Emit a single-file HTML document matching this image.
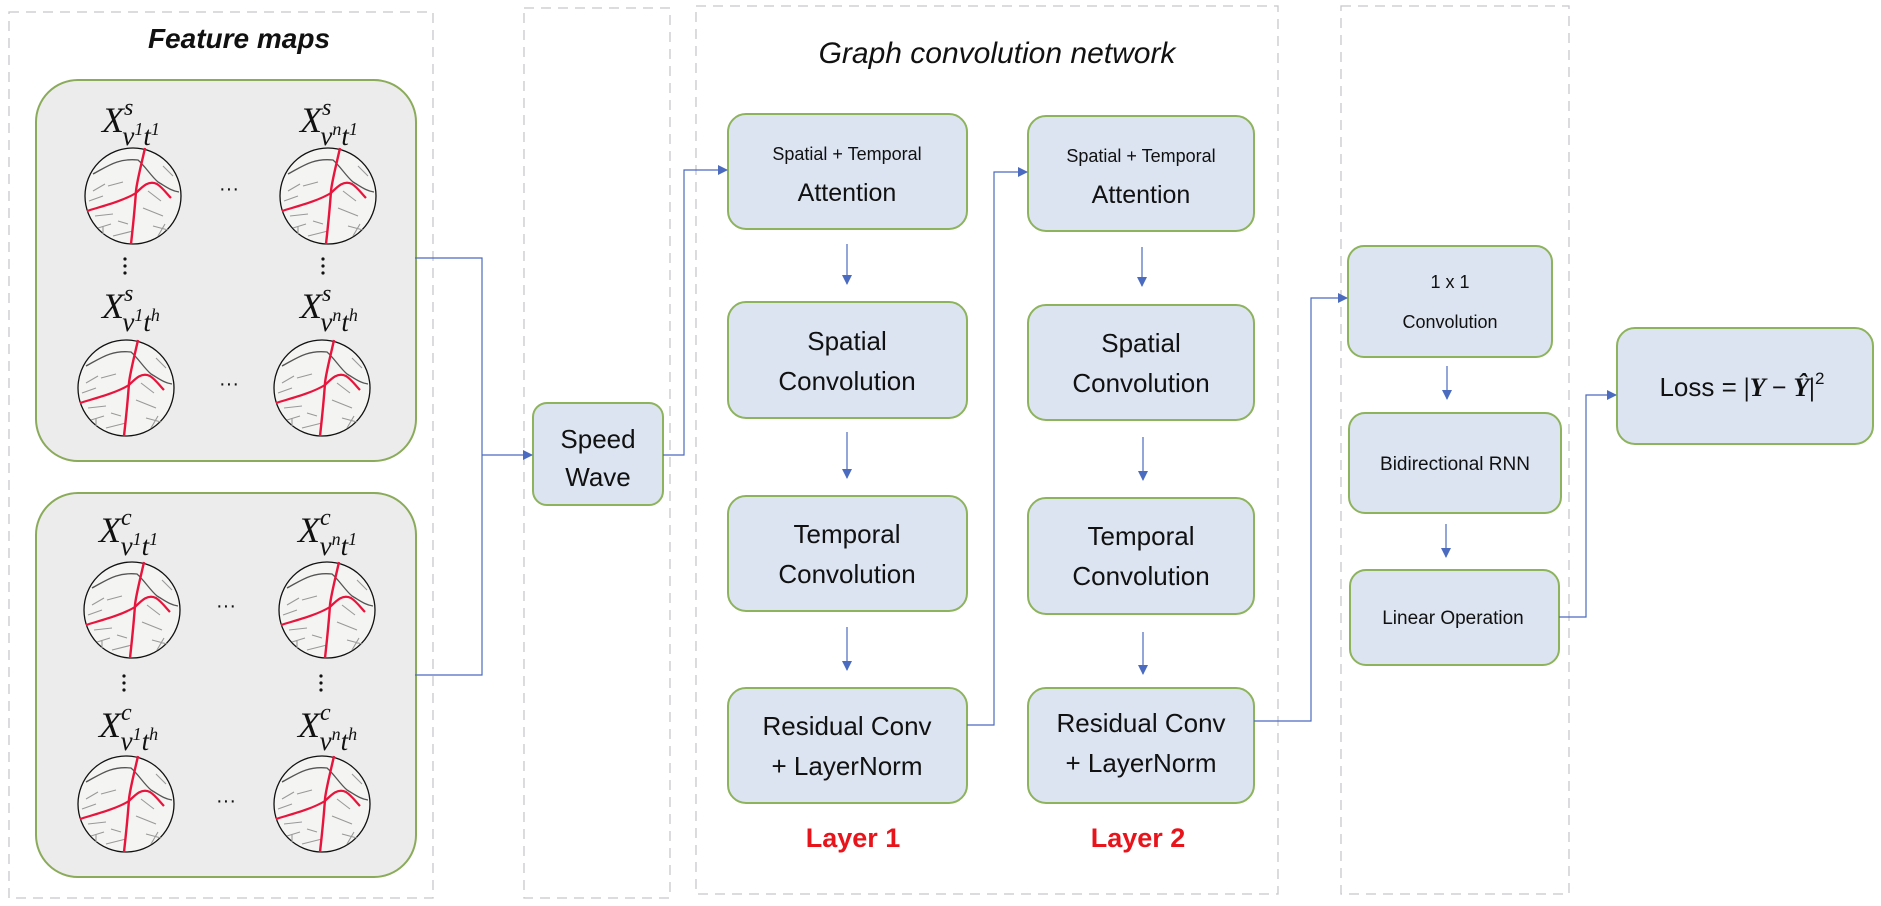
<!DOCTYPE html>
<html><head><meta charset="utf-8"><style>
html,body{margin:0;padding:0;background:#fff;width:1881px;height:906px;overflow:hidden}
svg text{font-family:"Liberation Sans",sans-serif;fill:#111}
.m{font-family:"Liberation Serif",serif;font-style:italic}
</style></head><body>
<svg width="1881" height="906" viewBox="0 0 1881 906" xmlns="http://www.w3.org/2000/svg">
<defs>
<marker id="a" viewBox="0 0 10 10" refX="9" refY="5" markerWidth="10" markerHeight="10" markerUnits="userSpaceOnUse" orient="auto"><path d="M0,0 L10,5 L0,10 z" fill="#4a6bbf"/></marker>
<g id="map">
<circle cx="0" cy="0" r="48" fill="#f4f4f2" stroke="#111" stroke-width="1.3"/>
<path d="M-40,-22 C-25,-30 -15,-38 5,-36 C12,-30 18,-20 25,-14 C32,-10 38,-5 46,-4" stroke="#555" stroke-width="1.3" fill="none"/>
<path d="M-44,5 L-30,0 M-38,20 L-20,18 M-30,30 L-30,38 M10,12 L30,20 M20,30 L35,34 M-25,-10 L-10,-14 M30,-30 L40,-20 M-20,40 L0,35 M-40,-5 L-28,-12 M-15,25 L-5,28 M15,-5 L28,5 M25,40 L32,28 M-35,32 L-22,28" stroke="#999" stroke-width="1.1" fill="none"/>
<path d="M12,-48 C8,-30 4,-15 3,-5 C2,10 0,30 -2,48" stroke="#e8143c" stroke-width="2.4" fill="none"/>
<path d="M-46,15 C-30,10 -10,5 3,-3 C10,-10 16,-16 24,-12 C30,-8 34,-2 38,2" stroke="#e8143c" stroke-width="2.2" fill="none"/>
</g>
</defs>
<g fill="none" stroke="#c8c8cc" stroke-width="1.3" stroke-dasharray="10,7">
<rect x="9" y="12" width="424" height="886"/>
<rect x="524" y="8" width="146" height="890"/>
<rect x="696" y="6" width="582" height="888"/>
<rect x="1341" y="6" width="228" height="888"/>
</g>
<text x="239" y="48" text-anchor="middle" font-size="28" font-weight="bold" font-style="italic">Feature maps</text>
<text x="997" y="63" text-anchor="middle" font-size="30" font-style="italic">Graph convolution network</text>

<rect x="36" y="80" width="380" height="381" rx="42" fill="#ececec" stroke="#8aab5a" stroke-width="2"/>
<rect x="36" y="493" width="380" height="384" rx="42" fill="#ececec" stroke="#8aab5a" stroke-width="2"/>

<g font-size="36" class="m">
<text x="102" y="132" class="m">X<tspan font-size="24" dy="-17">s</tspan><tspan font-size="27" dx="-11" dy="30">v</tspan><tspan font-size="18" dy="-10">1</tspan><tspan font-size="27" dy="10">t</tspan><tspan font-size="18" dy="-10">1</tspan></text>
<text x="300" y="132" class="m">X<tspan font-size="24" dy="-17">s</tspan><tspan font-size="27" dx="-11" dy="30">v</tspan><tspan font-size="18" dy="-10">n</tspan><tspan font-size="27" dy="10">t</tspan><tspan font-size="18" dy="-10">1</tspan></text>
<text x="102" y="318" class="m">X<tspan font-size="24" dy="-17">s</tspan><tspan font-size="27" dx="-11" dy="30">v</tspan><tspan font-size="18" dy="-10">1</tspan><tspan font-size="27" dy="10">t</tspan><tspan font-size="18" dy="-10">h</tspan></text>
<text x="300" y="318" class="m">X<tspan font-size="24" dy="-17">s</tspan><tspan font-size="27" dx="-11" dy="30">v</tspan><tspan font-size="18" dy="-10">n</tspan><tspan font-size="27" dy="10">t</tspan><tspan font-size="18" dy="-10">h</tspan></text>
<text x="99" y="542" class="m">X<tspan font-size="24" dy="-17">c</tspan><tspan font-size="27" dx="-11" dy="30">v</tspan><tspan font-size="18" dy="-10">1</tspan><tspan font-size="27" dy="10">t</tspan><tspan font-size="18" dy="-10">1</tspan></text>
<text x="298" y="542" class="m">X<tspan font-size="24" dy="-17">c</tspan><tspan font-size="27" dx="-11" dy="30">v</tspan><tspan font-size="18" dy="-10">n</tspan><tspan font-size="27" dy="10">t</tspan><tspan font-size="18" dy="-10">1</tspan></text>
<text x="99" y="737" class="m">X<tspan font-size="24" dy="-17">c</tspan><tspan font-size="27" dx="-11" dy="30">v</tspan><tspan font-size="18" dy="-10">1</tspan><tspan font-size="27" dy="10">t</tspan><tspan font-size="18" dy="-10">h</tspan></text>
<text x="298" y="737" class="m">X<tspan font-size="24" dy="-17">c</tspan><tspan font-size="27" dx="-11" dy="30">v</tspan><tspan font-size="18" dy="-10">n</tspan><tspan font-size="27" dy="10">t</tspan><tspan font-size="18" dy="-10">h</tspan></text>
</g>
<use href="#map" x="133" y="196"/><use href="#map" x="328" y="196"/>
<use href="#map" x="126" y="388"/><use href="#map" x="322" y="388"/>
<use href="#map" x="132" y="610"/><use href="#map" x="327" y="610"/>
<use href="#map" x="126" y="804"/><use href="#map" x="322" y="804"/>
<g font-size="20" text-anchor="middle">
<text x="229" y="195">···</text><text x="229" y="390">···</text>
<text x="226" y="612">···</text><text x="226" y="807">···</text>
</g>
<g fill="#111">
<circle cx="125" cy="259" r="1.6"/><circle cx="125" cy="266" r="1.6"/><circle cx="125" cy="273" r="1.6"/>
<circle cx="323" cy="259" r="1.6"/><circle cx="323" cy="266" r="1.6"/><circle cx="323" cy="273" r="1.6"/>
<circle cx="124" cy="676" r="1.6"/><circle cx="124" cy="683" r="1.6"/><circle cx="124" cy="690" r="1.6"/>
<circle cx="321" cy="676" r="1.6"/><circle cx="321" cy="683" r="1.6"/><circle cx="321" cy="690" r="1.6"/>
</g>

<g fill="#dce4f1" stroke="#8db35c" stroke-width="2">
<rect x="533" y="403" width="130" height="102" rx="14"/>
<rect x="728" y="114" width="239" height="115" rx="18"/>
<rect x="728" y="302" width="239" height="116" rx="18"/>
<rect x="728" y="496" width="239" height="115" rx="18"/>
<rect x="728" y="688" width="239" height="115" rx="18"/>
<rect x="1028" y="116" width="226" height="115" rx="18"/>
<rect x="1028" y="305" width="226" height="115" rx="18"/>
<rect x="1028" y="498" width="226" height="116" rx="18"/>
<rect x="1028" y="688" width="226" height="115" rx="18"/>
<rect x="1348" y="246" width="204" height="111" rx="16"/>
<rect x="1349" y="413" width="212" height="100" rx="16"/>
<rect x="1350" y="570" width="209" height="95" rx="16"/>
<rect x="1617" y="328" width="256" height="116" rx="18"/>
</g>

<g fill="none" stroke="#4a6bbf" stroke-width="1.2">
<path d="M415,258 H482 V675 H415"/>
<path d="M482,455 H532" marker-end="url(#a)"/>
<path d="M663,455 H684 V170 H727" marker-end="url(#a)"/>
<path d="M967,725 H994 V172 H1027" marker-end="url(#a)"/>
<path d="M1254,721 H1311 V298 H1347" marker-end="url(#a)"/>
<path d="M1559,617 H1586 V395 H1616" marker-end="url(#a)"/>
<path d="M847,244 V284" marker-end="url(#a)"/><path d="M847,432 V478" marker-end="url(#a)"/><path d="M847,627 V670" marker-end="url(#a)"/>
<path d="M1142,247 V286" marker-end="url(#a)"/><path d="M1143,437 V480" marker-end="url(#a)"/><path d="M1143,632 V674" marker-end="url(#a)"/>
<path d="M1447,366 V399" marker-end="url(#a)"/><path d="M1446,524 V557" marker-end="url(#a)"/>
</g>

<g text-anchor="middle">
<text x="598" y="448" font-size="26">Speed</text><text x="598" y="486" font-size="26">Wave</text>
<text x="847" y="160" font-size="18">Spatial + Temporal</text><text x="847" y="201" font-size="25">Attention</text>
<text x="847" y="350" font-size="26">Spatial</text><text x="847" y="390" font-size="26">Convolution</text>
<text x="847" y="543" font-size="26">Temporal</text><text x="847" y="583" font-size="26">Convolution</text>
<text x="847" y="735" font-size="26">Residual Conv</text><text x="847" y="775" font-size="26">+ LayerNorm</text>
<text x="1141" y="162" font-size="18">Spatial + Temporal</text><text x="1141" y="203" font-size="25">Attention</text>
<text x="1141" y="352" font-size="26">Spatial</text><text x="1141" y="392" font-size="26">Convolution</text>
<text x="1141" y="545" font-size="26">Temporal</text><text x="1141" y="585" font-size="26">Convolution</text>
<text x="1141" y="732" font-size="26">Residual Conv</text><text x="1141" y="772" font-size="26">+ LayerNorm</text>
<text x="853" y="847" font-size="27" font-weight="bold" style="fill:#e8141c">Layer 1</text>
<text x="1138" y="847" font-size="27" font-weight="bold" style="fill:#e8141c">Layer 2</text>
<text x="1450" y="288" font-size="18">1 x 1</text><text x="1450" y="328" font-size="18">Convolution</text>
<text x="1455" y="470" font-size="19">Bidirectional RNN</text>
<text x="1453" y="624" font-size="19">Linear Operation</text>
<text x="1742" y="396" font-size="26">Loss =  <tspan font-family="Liberation Serif" font-weight="bold" font-style="italic">|Y − Ŷ|</tspan><tspan font-size="17" dy="-12">2</tspan></text>
</g>
</svg>
</body></html>
